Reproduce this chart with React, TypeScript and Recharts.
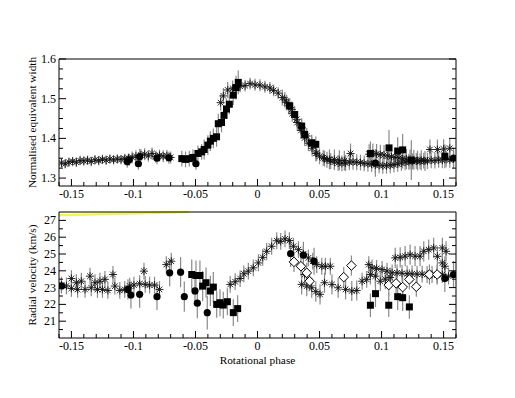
import React from 'react';
import { ScatterChart, Scatter, XAxis, YAxis, ErrorBar, ReferenceLine } from 'recharts';

type P = [number, number, number];

// ---------- axes / ticks ----------
const phaseTicks = [-0.16, -0.15, -0.14, -0.13, -0.12, -0.11, -0.1, -0.09, -0.08, -0.07, -0.06, -0.05, -0.04, -0.03, -0.02, -0.01, 0, 0.01, 0.02, 0.03, 0.04, 0.05, 0.06, 0.07, 0.08, 0.09, 0.1, 0.11, 0.12, 0.13, 0.14, 0.15, 0.16];
const phaseMajor = [-0.15, -0.1, -0.05, 0, 0.05, 0.1, 0.15];
const ewTicks = [1.3, 1.325, 1.35, 1.375, 1.4, 1.425, 1.45, 1.475, 1.5, 1.525, 1.55, 1.575, 1.6];
const ewMajor = [1.3, 1.4, 1.5, 1.6];
const rvTicks = [20.5, 21, 21.5, 22, 22.5, 23, 23.5, 24, 24.5, 25, 25.5, 26, 26.5, 27];
const rvMajor = [21, 22, 23, 24, 25, 26, 27];

// ---------- top panel: normalised equivalent width ----------
const ewStarA: P[] = [
  [-0.158, 1.338, 0.012], [-0.155, 1.336, 0.012], [-0.152, 1.34, 0.012], [-0.149, 1.342, 0.012], [-0.146, 1.34, 0.012],
  [-0.143, 1.344, 0.012], [-0.14, 1.343, 0.012], [-0.137, 1.345, 0.012], [-0.134, 1.342, 0.012], [-0.131, 1.346, 0.012],
  [-0.128, 1.344, 0.012], [-0.125, 1.347, 0.012], [-0.122, 1.345, 0.012], [-0.119, 1.348, 0.012], [-0.116, 1.346, 0.012],
  [-0.113, 1.348, 0.012], [-0.11, 1.347, 0.012], [-0.107, 1.349, 0.012], [-0.104, 1.35, 0.012], [-0.101, 1.352, 0.015],
  [-0.098, 1.355, 0.015], [-0.094, 1.358, 0.015], [-0.091, 1.36, 0.015], [-0.088, 1.356, 0.015], [-0.085, 1.362, 0.015],
  [-0.082, 1.354, 0.015], [-0.079, 1.357, 0.015], [-0.076, 1.355, 0.015], [-0.073, 1.356, 0.015], [-0.07, 1.352, 0.015],
  [-0.0297, 1.49, 0.02], [-0.0275, 1.507, 0.02], [-0.024, 1.522, 0.02], [-0.02, 1.526, 0.02], [-0.017, 1.528, 0.015],
  [-0.014, 1.531, 0.015], [-0.01, 1.533, 0.015], [-0.006, 1.538, 0.015], [-0.002, 1.535, 0.015], [0.002, 1.534, 0.015],
  [0.006, 1.53, 0.015], [0.01, 1.527, 0.015], [0.013, 1.521, 0.015], [0.0167, 1.514, 0.015], [0.02, 1.503, 0.02],
  [0.0235, 1.49, 0.02], [0.0276, 1.473, 0.02], [0.0316, 1.448, 0.02], [0.0356, 1.427, 0.02], [0.0397, 1.406, 0.02],
  [0.0437, 1.385, 0.02], [0.0477, 1.363, 0.02], [0.053, 1.351, 0.02], [0.056, 1.346, 0.02], [0.059, 1.343, 0.02],
  [0.062, 1.34, 0.02], [0.065, 1.338, 0.02], [0.068, 1.337, 0.02], [0.071, 1.338, 0.02], [0.074, 1.34, 0.02],
  [0.077, 1.341, 0.02], [0.08, 1.34, 0.02], [0.083, 1.339, 0.02], [0.086, 1.337, 0.02], [0.089, 1.336, 0.02],
  [0.092, 1.335, 0.02], [0.095, 1.333, 0.02], [0.098, 1.332, 0.02], [0.101, 1.331, 0.02], [0.104, 1.331, 0.02],
  [0.107, 1.332, 0.02], [0.11, 1.334, 0.02], [0.113, 1.336, 0.02], [0.116, 1.338, 0.02], [0.119, 1.34, 0.02],
  [0.122, 1.341, 0.02], [0.125, 1.342, 0.02], [0.128, 1.343, 0.02], [0.131, 1.342, 0.02], [0.134, 1.344, 0.02],
  [0.137, 1.343, 0.02], [0.14, 1.345, 0.02], [0.143, 1.344, 0.02], [0.146, 1.346, 0.02], [0.149, 1.345, 0.02],
  [0.152, 1.347, 0.02], [0.155, 1.346, 0.02], [0.158, 1.348, 0.02],
];
const ewStarB: P[] = [
  [0.022, 1.497, 0.02], [0.025, 1.482, 0.02], [0.028, 1.462, 0.02], [0.032, 1.44, 0.02], [0.035, 1.42, 0.02],
  [0.038, 1.401, 0.02], [0.041, 1.388, 0.02], [0.044, 1.375, 0.02], [0.047, 1.362, 0.02], [0.05, 1.355, 0.02],
  [0.054, 1.349, 0.02], [0.058, 1.347, 0.025], [0.062, 1.347, 0.025], [0.066, 1.345, 0.025], [0.07, 1.344, 0.025],
  [0.075, 1.362, 0.025], [0.09, 1.36, 0.025], [0.093, 1.362, 0.025], [0.096, 1.361, 0.025], [0.099, 1.359, 0.025],
  [0.102, 1.358, 0.025], [0.105, 1.356, 0.025], [0.108, 1.354, 0.025], [0.111, 1.352, 0.025], [0.114, 1.351, 0.025],
  [0.117, 1.349, 0.025], [0.12, 1.348, 0.025], [0.123, 1.347, 0.025], [0.126, 1.346, 0.025], [0.129, 1.344, 0.025],
  [0.132, 1.345, 0.025], [0.135, 1.343, 0.025], [0.139, 1.372, 0.025], [0.145, 1.372, 0.025], [0.15, 1.373, 0.025],
  [0.155, 1.375, 0.025],
];
const ewSquares: P[] = [
  [-0.061, 1.349, 0.02], [-0.058, 1.347, 0.02], [-0.055, 1.349, 0.02], [-0.052, 1.352, 0.02], [-0.048, 1.362, 0.02],
  [-0.045, 1.366, 0.02], [-0.043, 1.372, 0.025], [-0.04, 1.383, 0.025], [-0.038, 1.393, 0.025], [-0.0356, 1.4, 0.025],
  [-0.033, 1.404, 0.025], [-0.0316, 1.437, 0.025], [-0.029, 1.44, 0.025], [-0.027, 1.458, 0.025], [-0.025, 1.474, 0.025],
  [-0.0227, 1.486, 0.025], [-0.0195, 1.509, 0.025], [-0.0173, 1.528, 0.03], [-0.0155, 1.541, 0.03],
  [0.026, 1.482, 0.02], [0.03, 1.46, 0.02], [0.0356, 1.431, 0.02], [0.038, 1.41, 0.02], [0.0437, 1.389, 0.02],
  [0.047, 1.385, 0.02], [0.091, 1.362, 0.03], [0.106, 1.376, 0.045], [0.113, 1.368, 0.035], [0.117, 1.371, 0.04],
  [0.124, 1.345, 0.05], [0.151, 1.355, 0.03],
];
const ewCircles: P[] = [
  [-0.105, 1.341, 0.015], [-0.1035, 1.346, 0.015], [-0.096, 1.336, 0.015], [-0.095, 1.354, 0.02], [-0.081, 1.35, 0.015],
  [-0.0714, 1.351, 0.015], [-0.0496, 1.336, 0.015], [0.095, 1.338, 0.035], [0.158, 1.35, 0.025],
];

// ---------- bottom panel: radial velocity ----------
const rvStarA: P[] = [
  [-0.158, 23.15, 0.5], [-0.154, 23.1, 0.5], [-0.15, 22.95, 0.5], [-0.145, 22.89, 0.5], [-0.139, 22.89, 0.5],
  [-0.134, 22.99, 0.5], [-0.129, 22.89, 0.5], [-0.125, 22.89, 0.5], [-0.1206, 22.83, 0.5], [-0.115, 23.09, 0.5],
  [-0.111, 22.83, 0.5], [-0.107, 22.89, 0.5], [-0.103, 23.09, 0.5], [-0.0996, 23.15, 0.5], [-0.095, 23.23, 0.5],
  [-0.0905, 23.19, 0.5], [-0.087, 23.15, 0.5], [-0.083, 23.15, 0.5], [-0.079, 22.89, 0.5],
  [-0.022, 23.19, 0.5], [-0.018, 23.35, 0.5], [-0.014, 23.54, 0.5], [-0.011, 23.82, 0.5], [-0.0074, 23.98, 0.5],
  [-0.0034, 24.18, 0.5], [0.0007, 24.47, 0.5], [0.0042, 24.8, 0.5], [0.0074, 25.16, 0.5], [0.0114, 25.46, 0.5],
  [0.0155, 25.79, 0.5], [0.0187, 25.75, 0.5], [0.0222, 25.9, 0.5], [0.0257, 25.8, 0.5], [0.029, 25.46, 0.5],
  [0.033, 25.26, 0.5], [0.037, 25.0, 0.5], [0.041, 24.77, 0.5], [0.0445, 24.57, 0.5], [0.0477, 24.37, 0.5],
  [0.0518, 24.27, 0.5], [0.0547, 24.27, 0.5], [0.0587, 24.27, 0.5],
  [0.0843, 23.38, 0.5], [0.088, 23.49, 0.5], [0.0897, 24.37, 0.5], [0.0923, 24.18, 0.5], [0.096, 24.14, 0.5],
  [0.1004, 24.08, 0.5], [0.1044, 23.98, 0.5], [0.1085, 23.88, 0.5], [0.1125, 23.88, 0.5], [0.1165, 23.85, 0.5],
  [0.1206, 23.82, 0.5], [0.1246, 23.82, 0.5], [0.1286, 23.8, 0.5], [0.1327, 23.8, 0.5], [0.1367, 23.78, 0.5],
  [0.1407, 23.78, 0.5], [0.1448, 23.75, 0.5], [0.149, 23.78, 0.5], [0.154, 23.68, 0.5],
];
const rvStarB: P[] = [
  [-0.15, 23.54, 0.5], [-0.146, 23.29, 0.5], [-0.142, 23.38, 0.5], [-0.135, 23.68, 0.5], [-0.131, 23.29, 0.5],
  [-0.127, 23.38, 0.5], [-0.123, 23.49, 0.5], [-0.1165, 23.78, 0.5], [-0.0915, 23.98, 0.5], [-0.0735, 24.37, 0.5],
  [-0.0695, 24.57, 0.5],
  [0.0356, 23.19, 0.6], [0.038, 23.78, 0.6], [0.0397, 23.09, 0.6], [0.0437, 22.99, 0.6], [0.047, 22.76, 0.6],
  [0.0504, 22.6, 0.6], [0.054, 23.29, 0.6], [0.06, 23.19, 0.6], [0.065, 22.99, 0.6], [0.071, 22.89, 0.6],
  [0.076, 22.8, 0.6], [0.08, 22.83, 0.6], [0.091, 23.78, 0.6], [0.095, 23.68, 0.6], [0.099, 23.38, 0.6],
  [0.103, 23.5, 0.6], [0.107, 23.6, 0.6], [0.111, 24.77, 0.6], [0.115, 24.8, 0.6], [0.119, 24.87, 0.6],
  [0.123, 24.96, 0.6], [0.127, 24.87, 0.6], [0.131, 24.87, 0.6], [0.134, 25.16, 0.6], [0.138, 25.26, 0.6],
  [0.142, 25.36, 0.6], [0.145, 24.86, 0.6], [0.149, 25.36, 0.6], [0.152, 25.16, 0.6], [0.149, 24.47, 0.6],
  [0.151, 24.27, 0.6],
];
const rvCircles: P[] = [
  [-0.158, 23.1, 0.4], [-0.1044, 22.89, 0.6], [-0.102, 22.56, 0.8], [-0.095, 22.6, 0.8], [-0.081, 22.46, 0.8],
  [-0.0708, 23.88, 0.8], [-0.062, 23.92, 0.9], [-0.059, 22.46, 0.9], [-0.0504, 22.8, 0.8], [-0.0485, 22.07, 0.9],
  [-0.0405, 21.51, 1.0], [0.0267, 25.02, 0.8], [0.037, 24.93, 0.8], [0.0456, 24.57, 0.8], [0.151, 23.54, 0.8],
  [0.158, 23.78, 0.8],
];
const rvSquares: P[] = [
  [-0.053, 23.78, 0.9], [-0.0496, 23.72, 0.9], [-0.0464, 23.72, 0.9], [-0.0442, 23.09, 0.9], [-0.0415, 23.29, 0.9],
  [-0.038, 22.8, 0.9], [-0.0356, 23.03, 0.9], [-0.0329, 22.0, 0.8], [-0.0302, 22.1, 0.8], [-0.0276, 21.96, 0.8],
  [-0.0243, 22.16, 0.8], [-0.0195, 21.51, 0.8], [-0.016, 21.75, 0.8], [0.091, 21.95, 0.7], [0.0951, 22.64, 0.8],
  [0.1058, 21.95, 0.7], [0.113, 22.46, 0.8], [0.117, 22.4, 0.8], [0.1224, 21.85, 0.7],
];
const rvDiamonds: P[] = [
  [0.0294, 24.53, 0.6], [0.035, 24.27, 0.6], [0.0397, 23.88, 0.6], [0.042, 23.38, 0.6], [0.0695, 23.62, 0.6],
  [0.0757, 24.31, 0.6], [0.1058, 23.15, 0.6], [0.1117, 23.25, 0.6], [0.117, 23.03, 0.6], [0.1224, 23.49, 0.6],
  [0.128, 23.05, 0.6], [0.1386, 23.78, 0.6], [0.1448, 23.78, 0.6],
];
const yellowX = [-0.16, -0.055];
const yellowY = [27.3, 27.5];

// ---------- helpers ----------
const FONT = 'Liberation Serif, Times New Roman, DejaVu Serif, serif';
const txt = { fontFamily: FONT };
const pts = (a: P[]) => a.map(([x, y, e]) => ({ x, y, e }));
const isMajor = (v: number, majors: number[]) => majors.some((m) => Math.abs(m - v) < 1e-9);
const MAJ = 7;
const MIN = 4;

const Asterisk = (p: any) => {
  const { cx, cy } = p;
  if (cx == null || cy == null) return <g />;
  const r = 4;
  const d = r * 0.7071;
  return (
    <g stroke="#111" strokeWidth={0.9}>
      <line x1={cx - r} y1={cy} x2={cx + r} y2={cy} />
      <line x1={cx} y1={cy - r} x2={cx} y2={cy + r} />
      <line x1={cx - d} y1={cy - d} x2={cx + d} y2={cy + d} />
      <line x1={cx - d} y1={cy + d} x2={cx + d} y2={cy - d} />
    </g>
  );
};
const Dot = (p: any) => (p.cx == null ? <g /> : <circle cx={p.cx} cy={p.cy} r={3.6} fill="#000" />);
const Sq = (p: any) => (p.cx == null ? <g /> : <rect x={p.cx - 3.5} y={p.cy - 3.5} width={7} height={7} fill="#000" />);
const Dia = (p: any) =>
  p.cx == null ? <g /> : (
    <polygon
      points={`${p.cx},${p.cy - 4.8} ${p.cx + 4.8},${p.cy} ${p.cx},${p.cy + 4.8} ${p.cx - 4.8},${p.cy}`}
      fill="#fff"
      stroke="#000"
      strokeWidth={1}
    />
  );

const bottomTick = (majors: number[]) => (props: any) => {
  const { x, y, payload } = props;
  const v = payload.value;
  const mj = isMajor(v, majors);
  return (
    <g>
      <line x1={x} x2={x} y1={y} y2={y - (mj ? MAJ : MIN)} stroke="#000" strokeWidth={1} />
      {mj && (
        <text x={x} y={y + 12} textAnchor="middle" fontSize={12} style={txt} fill="#000">
          {String(v)}
        </text>
      )}
    </g>
  );
};
const topTick = (majors: number[]) => (props: any) => {
  const { x, y, payload } = props;
  const mj = isMajor(payload.value, majors);
  return <line x1={x} x2={x} y1={y} y2={y + (mj ? MAJ : MIN)} stroke="#000" strokeWidth={1} />;
};
const leftTick = (majors: number[]) => (props: any) => {
  const { x, y, payload } = props;
  const v = payload.value;
  const mj = isMajor(v, majors);
  return (
    <g>
      <line x1={x} x2={x + (mj ? MAJ : MIN)} y1={y} y2={y} stroke="#000" strokeWidth={1} />
      {mj && (
        <text x={x - 3} y={y + 4} textAnchor="end" fontSize={12} style={txt} fill="#000">
          {String(v)}
        </text>
      )}
    </g>
  );
};
const rightTick = (majors: number[]) => (props: any) => {
  const { x, y, payload } = props;
  const mj = isMajor(payload.value, majors);
  return <line x1={x} x2={x - (mj ? MAJ : MIN)} y1={y} y2={y} stroke="#000" strokeWidth={1} />;
};

const yTitle = (text: string) => (props: any) => {
  const vb = props.viewBox || {};
  const cx = vb.x + vb.width - 27;
  const cy = vb.y + vb.height / 2;
  return (
    <text
      x={cx}
      y={cy}
      transform={`rotate(-90, ${cx}, ${cy})`}
      textAnchor="middle"
      dominantBaseline="central"
      fontSize={11.3}
      style={txt}
      fill="#000"
    >
      {text}
    </text>
  );
};
const xTitle = (text: string) => (props: any) => {
  const vb = props.viewBox || {};
  return (
    <text
      x={vb.x + vb.width / 2}
      y={vb.y + 22}
      textAnchor="middle"
      dominantBaseline="central"
      fontSize={11.3}
      style={txt}
      fill="#000"
    >
      {text}
    </text>
  );
};

const errBar = <ErrorBar dataKey="e" direction="y" width={0} stroke="#8a8a8a" strokeWidth={1.2} />;

const axisLine = { stroke: '#000', strokeWidth: 1 };

export default function App() {
  const phaseDomain: [number, number] = [-0.16, 0.16];
  return (
    <div style={{ position: 'absolute', left: 0, top: 0, width: 515, height: 398, background: '#fff', fontFamily: FONT }}>
      <div style={{ position: 'absolute', left: 0, top: 0 }}>
        <ScatterChart width={515} height={210} margin={{ top: 49, right: 49, left: 19, bottom: 4 }}>
          <XAxis
            type="number"
            dataKey="x"
            domain={phaseDomain}
            allowDataOverflow
            ticks={phaseTicks}
            interval={0}
            tickSize={0}
            tickMargin={0}
            tickLine={false}
            axisLine={axisLine}
            height={20}
            tick={bottomTick(phaseMajor)}
          />
          <XAxis
            xAxisId="top"
            orientation="top"
            type="number"
            domain={phaseDomain}
            allowDataOverflow
            ticks={phaseTicks}
            interval={0}
            tickSize={0}
            tickMargin={0}
            tickLine={false}
            axisLine={axisLine}
            height={10}
            tick={topTick(phaseMajor)}
          />
          <YAxis
            type="number"
            dataKey="y"
            domain={[1.28, 1.6]}
            allowDataOverflow
            ticks={ewTicks}
            interval={0}
            tickSize={0}
            tickMargin={0}
            tickLine={false}
            axisLine={axisLine}
            width={40}
            tick={leftTick(ewMajor)}
            label={{ content: yTitle('Normalised equivalent width') }}
          />
          <YAxis
            yAxisId="right"
            orientation="right"
            type="number"
            domain={[1.28, 1.6]}
            allowDataOverflow
            ticks={ewTicks}
            interval={0}
            tickSize={0}
            tickMargin={0}
            tickLine={false}
            axisLine={axisLine}
            width={10}
            tick={rightTick(ewMajor)}
          />
          <Scatter data={pts(ewStarA)} shape={Asterisk} isAnimationActive={false}>
            {errBar}
          </Scatter>
          <Scatter data={pts(ewStarB)} shape={Asterisk} isAnimationActive={false}>
            {errBar}
          </Scatter>
          <Scatter data={pts(ewSquares)} shape={Sq} isAnimationActive={false}>
            {errBar}
          </Scatter>
          <Scatter data={pts(ewCircles)} shape={Dot} isAnimationActive={false}>
            {errBar}
          </Scatter>
        </ScatterChart>
      </div>
      <div style={{ position: 'absolute', left: 0, top: 200 }}>
        <ScatterChart width={515} height={198} margin={{ top: 2, right: 49, left: 19, bottom: 40 }}>
          <XAxis
            type="number"
            dataKey="x"
            domain={phaseDomain}
            allowDataOverflow
            ticks={phaseTicks}
            interval={0}
            tickSize={0}
            tickMargin={0}
            tickLine={false}
            axisLine={axisLine}
            height={20}
            tick={bottomTick(phaseMajor)}
            label={{ content: xTitle('Rotational phase') }}
          />
          <XAxis
            xAxisId="top"
            orientation="top"
            type="number"
            domain={phaseDomain}
            allowDataOverflow
            ticks={phaseTicks}
            interval={0}
            tickSize={0}
            tickMargin={0}
            tickLine={false}
            axisLine={axisLine}
            height={10}
            tick={topTick(phaseMajor)}
          />
          <YAxis
            type="number"
            dataKey="y"
            domain={[20, 27.5]}
            allowDataOverflow
            ticks={rvTicks}
            interval={0}
            tickSize={0}
            tickMargin={0}
            tickLine={false}
            axisLine={axisLine}
            width={40}
            tick={leftTick(rvMajor)}
            label={{ content: yTitle('Radial velocity (km/s)') }}
          />
          <YAxis
            yAxisId="right"
            orientation="right"
            type="number"
            domain={[20, 27.5]}
            allowDataOverflow
            ticks={rvTicks}
            interval={0}
            tickSize={0}
            tickMargin={0}
            tickLine={false}
            axisLine={axisLine}
            width={10}
            tick={rightTick(rvMajor)}
          />
          <ReferenceLine
            segment={[
              { x: yellowX[0], y: yellowY[0] },
              { x: yellowX[1], y: yellowY[1] },
            ]}
            stroke="#f5f550"
            strokeWidth={2.5}
            ifOverflow="visible"
          />
          <Scatter data={pts(rvStarA)} shape={Asterisk} isAnimationActive={false}>
            {errBar}
          </Scatter>
          <Scatter data={pts(rvStarB)} shape={Asterisk} isAnimationActive={false}>
            {errBar}
          </Scatter>
          <Scatter data={pts(rvSquares)} shape={Sq} isAnimationActive={false}>
            {errBar}
          </Scatter>
          <Scatter data={pts(rvCircles)} shape={Dot} isAnimationActive={false}>
            {errBar}
          </Scatter>
          <Scatter data={pts(rvDiamonds)} shape={Dia} isAnimationActive={false}>
            {errBar}
          </Scatter>
        </ScatterChart>
      </div>
    </div>
  );
}
